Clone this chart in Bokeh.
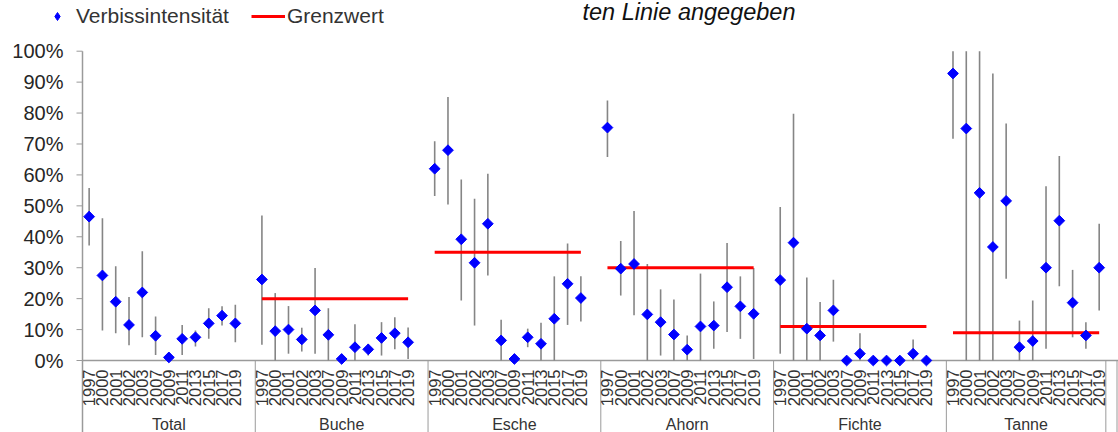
import math
from bokeh.plotting import figure
from bokeh.models import ColumnDataSource, Range1d, Legend, LegendItem, Label, CDSView, IndexFilter
from bokeh.core.properties import value
from bokeh.embed import file_html
from bokeh.resources import INLINE

# ---------------- data (percent) ----------------
groups = ["Total", "Buche", "Esche", "Ahorn", "Fichte", "Tanne"]
years = ["1997", "2000", "2001", "2002", "2003", "2007", "2009", "2011", "2013", "2015", "2017", "2019"]

total_val = [46.5, 27.5, 19.0, 11.5, 22.0, 8.0, 1.0, 7.0, 7.5, 12.0, 14.5, 12.0]
total_lo = [37.2, 9.7, 8.8, 4.9, 7.5, 1.8, 1.0, 1.8, 4.5, 7.0, 11.3, 5.9]
total_hi = [55.8, 46.0, 30.5, 20.5, 35.3, 14.2, 1.0, 11.5, 9.7, 16.9, 17.5, 18.0]

buche_val = [26.2, 9.5, 10.0, 6.8, 16.2, 8.3, 0.5, 4.3, 3.6, 7.3, 8.8, 5.9]
buche_lo = [5.1, 0.0, 2.2, 2.9, 2.2, 0.0, 0.5, 0.0, 1.6, 1.6, 3.6, 0.5]
buche_hi = [46.9, 21.8, 17.6, 10.6, 29.9, 16.9, 0.5, 11.7, 5.4, 12.4, 14.0, 10.7]

esche_val = [62.0, 68.0, 39.2, 31.6, 44.2, 6.5, 0.5, 7.5, 5.4, 13.5, 24.8, 20.2]
esche_lo = [53.2, 50.4, 19.4, 11.3, 27.5, 0.0, 0.5, 4.3, 0.0, 0.0, 11.5, 12.6]
esche_hi = [70.9, 85.2, 58.5, 52.3, 60.4, 13.2, 0.5, 10.3, 12.2, 27.2, 37.8, 27.2]

ahorn_val = [75.3, 29.7, 31.2, 14.9, 12.4, 8.4, 3.5, 11.0, 11.3, 23.7, 17.5, 15.1]
ahorn_lo = [65.8, 21.0, 14.6, 0.0, 1.6, 0.0, 0.0, 0.0, 3.8, 9.2, 7.0, 0.5]
ahorn_hi = [84.1, 38.6, 48.3, 31.2, 23.0, 19.7, 8.1, 28.1, 19.1, 38.0, 27.2, 29.9]

fichte_val = [26.0, 38.1, 10.3, 8.1, 16.2, 0.0, 2.2, 0.0, 0.0, 0.0, 2.2, 0.0]
fichte_lo = [2.2, 0.0, 0.0, 0.0, 6.1, 0.0, 0.0, 0.0, 0.0, 0.0, 0.0, 0.0]
fichte_hi = [49.6, 79.8, 26.8, 18.9, 26.1, 0.0, 8.8, 0.0, 0.0, 0.0, 6.8, 0.0]

tanne_val = [92.8, 75.0, 54.2, 36.7, 51.6, 4.3, 6.3, 30.0, 45.2, 18.7, 8.1, 30.0]
tanne_lo = [71.7, 0.0, 0.0, 0.0, 26.4, 0.0, 0.0, 3.8, 24.0, 7.5, 3.8, 16.2]
tanne_hi = [100.0, 100.0, 100.0, 92.8, 76.6, 12.9, 19.4, 56.3, 66.1, 29.3, 12.4, 44.2]

grenzwert = [None, 20.0, 35.0, 30.0, 11.0, 9.0]

y_ticks = [0, 10, 20, 30, 40, 50, 60, 70, 80, 90, 100]
y_tick_labels = ["0%", "10%", "20%", "30%", "40%", "50%", "60%", "70%", "80%", "90%", "100%"]

series_val = [total_val, buche_val, esche_val, ahorn_val, fichte_val, tanne_val]
series_lo = [total_lo, buche_lo, esche_lo, ahorn_lo, fichte_lo, tanne_lo]
series_hi = [total_hi, buche_hi, esche_hi, ahorn_hi, fichte_hi, tanne_hi]

# ---------------- layout ----------------
W, H = 1118, 432
AXIS_PX = 82.0         # pixel x of the value axis
UNIT = 13.29           # px per year slot
SLOTS = 13             # slots per group
Y0_PX = 360.0
PX_PCT = 3.093
x_start = -AXIS_PX / UNIT
x_end = x_start + W / UNIT
y_top = Y0_PX / PX_PCT
y_bot = -(H - Y0_PX) / PX_PCT

xs, vals, los, his = [], [], [], []
for g, _ in enumerate(groups):
    for i, _y in enumerate(years):
        xs.append(SLOTS * g + 0.5 + i)
        vals.append(series_val[g][i])
        los.append(series_lo[g][i])
        his.append(series_hi[g][i])

pts = ColumnDataSource(dict(x=xs, v=vals, lo=los, hi=his))

gx0, gx1, gy = [], [], []
for g, gv in enumerate(grenzwert):
    if gv is not None:
        gx0.append(SLOTS * g + 0.5)
        gx1.append(SLOTS * g + 0.5 + len(years) - 1)
        gy.append(gv)
gw = ColumnDataSource(dict(x0=gx0, x1=gx1, y=gy))

p = figure(width=W, height=H, x_range=Range1d(x_start, x_end), y_range=Range1d(y_bot, y_top),
           output_backend="svg", toolbar_location=None, x_axis_location=None,
           y_axis_location=None, min_border=0)
p.xgrid.visible = False
p.ygrid.visible = False
p.outline_line_color = None
p.background_fill_color = "white"

GRAY = "#9a9a9a"
FONT = value("Liberation Sans")
px = 1.0 / UNIT

# value axis: line, ticks, labels
p.segment(x0=[0], y0=[y_bot], x1=[0], y1=[max(y_ticks)], line_color=GRAY, line_width=1.5)
p.segment(x0=[-6 * px] * len(y_ticks), y0=y_ticks, x1=[0] * len(y_ticks), y1=y_ticks,
          line_color=GRAY, line_width=1)
p.text(x=[-19 * px] * len(y_ticks), y=y_ticks, text=y_tick_labels, text_align="right",
       text_baseline="middle", text_font=FONT, text_font_size="20px", text_color="#262626")

# category axis line
p.segment(x0=[0], y0=[0], x1=[x_end], y1=[0], line_color=GRAY, line_width=1.5)
# group separators
sep_x = [SLOTS * g for g in range(1, len(groups))] + [SLOTS * (len(groups) - 1) + len(years), x_end - 1.5 * px]
p.segment(x0=sep_x, y0=[0] * len(sep_x), x1=sep_x, y1=[y_bot] * len(sep_x), line_color=GRAY, line_width=1)

# error bars
p.segment(x0="x", y0="lo", x1="x", y1="hi", source=pts, line_color="#858585", line_width=1.6)
# Grenzwert
r_gw = p.segment(x0="x0", y0="y", x1="x1", y1="y", source=gw, line_color="#ff0000", line_width=3)
# points (rotated squares)
p.scatter(x="x", y="v", source=pts, marker="square", angle=math.pi / 4, size=7.6,
          fill_color="#0000ff", line_color="#0000ff")
# legend glyph: a diamond hidden inside the first point (legends ignore the angle)
r_leg = p.scatter(x="x", y="v", source=pts, view=CDSView(filter=IndexFilter([0])),
                  marker="diamond", size=10.5, fill_color="#0000ff", line_color="#0000ff")

# year labels
lab_t = [y for _g in groups for y in years]
p.text(x=xs, y=[-9.0 / PX_PCT] * len(xs), text=lab_t, angle=math.pi / 2,
       text_align="right", text_baseline="middle", text_font=FONT,
       text_font_size="16.5px", text_color="#333333")
# group labels
grp_x = [SLOTS * g + (SLOTS if g < len(groups) - 1 else len(years)) / 2 for g in range(len(groups))]
p.text(x=grp_x, y=[-64.0 / PX_PCT] * len(groups), text=groups, text_align="center",
       text_baseline="middle", text_font=FONT, text_font_size="16px", text_color="#333333")

legend = Legend(items=[LegendItem(label="Verbissintensität", renderers=[r_leg]),
                       LegendItem(label="Grenzwert", renderers=[r_gw])],
                orientation="horizontal", location=(40, H - 28),
                padding=0, margin=0, spacing=22, glyph_width=34, glyph_height=20,
                label_height=20, label_standoff=2, border_line_color=None,
                background_fill_alpha=0, label_text_font="Liberation Sans",
                label_text_font_size="21px", label_text_color="#333333")
p.add_layout(legend)

p.add_layout(Label(x=582, y=H - 11, x_units="screen", y_units="screen", text="ten Linie angegeben",
                   text_font="Liberation Sans", text_font_style="italic", text_font_size="23.5px",
                   text_color="#111111", text_baseline="alphabetic"))

open("out.html", "w").write(file_html(p, INLINE))
